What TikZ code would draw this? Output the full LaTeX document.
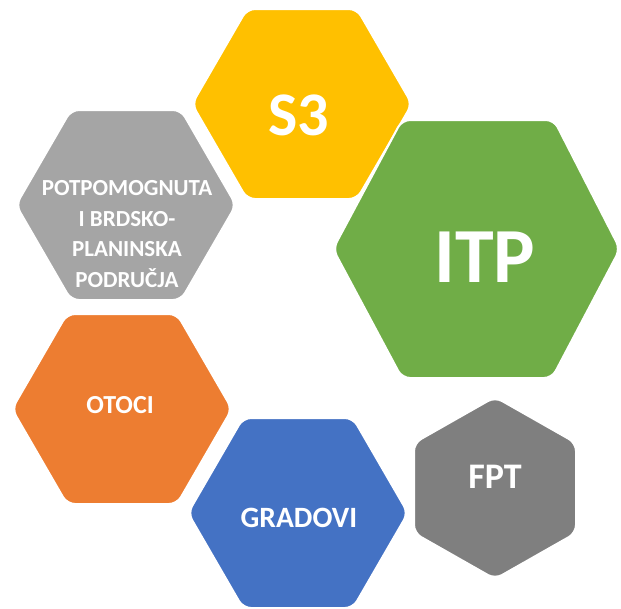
\documentclass[tikz,border=0pt]{standalone}
\usepackage{fontspec}
\setmainfont{Carlito}
\usepackage{tikz}
\usetikzlibrary{positioning}
\definecolor{hexyellow}{HTML}{FFC000}
\definecolor{hexgreen}{HTML}{70AD47}
\definecolor{hexlight}{HTML}{A5A5A5}
\definecolor{hexorange}{HTML}{ED7D31}
\definecolor{hexblue}{HTML}{4472C4}
\definecolor{hexdark}{HTML}{7F7F7F}
\tikzset{hexa/.style={draw=white, line width=2pt, rounded corners=8pt}}
\tikzset{hexlabel/.style={text=white, font=\bfseries, inner sep=0pt, align=center}}

\begin{document}
\begin{tikzpicture}[x=1pt, y=-1pt]
          \useasboundingbox (0,0) rectangle (621,608);
          % flat-top hexagons
          \filldraw[hexa, fill=hexyellow, shift={(302,104)}]
            (-110,0) -- (-55,-95) -- (55,-95) -- (110,0) -- (55,95) -- (-55,95) -- cycle;
          \filldraw[hexa, fill=hexlight, shift={(126,205)}]
            (-110,0) -- (-55,-95) -- (55,-95) -- (110,0) -- (55,95) -- (-55,95) -- cycle;
          \filldraw[hexa, fill=hexorange, shift={(122,409)}]
            (-110,0) -- (-55,-95) -- (55,-95) -- (110,0) -- (55,95) -- (-55,95) -- cycle;
          \filldraw[hexa, fill=hexblue, shift={(298,513)}]
            (-110,0) -- (-55,-95) -- (55,-95) -- (110,0) -- (55,95) -- (-55,95) -- cycle;
          \filldraw[hexa, fill=hexgreen, shift={(477,249)}]
            (-144,0) -- (-75,-129) -- (77,-129) -- (143,0) -- (75,129) -- (-75,129) -- cycle;
          % pointy-top one
          \filldraw[hexa, fill=hexdark, shift={(495,488)}]
            (0,-91) -- (81,-45) -- (81,45) -- (0,91) -- (-81,45) -- (-81,-45) -- cycle;
          % labels
          \node[hexlabel, font=\bfseries\fontsize{62}{62}\selectfont] (s3) at (299,115) {S3};
          \node[hexlabel, font=\bfseries\fontsize{78}{78}\selectfont] (itp) at (485,257) {ITP};
          \node[hexlabel, font=\bfseries\fontsize{23}{30.5}\selectfont] (podrucja) at (127,234)
            {POTPOMOGNUTA\\I BRDSKO-\\PLANINSKA\\PODRUČJA};
          \node[hexlabel, font=\bfseries\fontsize{26}{26}\selectfont] (otoci) at (120,405) {OTOCI};
          \node[hexlabel, font=\bfseries\fontsize{29.5}{29.5}\selectfont] (gradovi) at (299,518) {GRADOVI};
          \node[hexlabel, font=\bfseries\fontsize{36}{36}\selectfont] (fpt) at (495,477) {FPT};
        \end{tikzpicture}
\end{document}
